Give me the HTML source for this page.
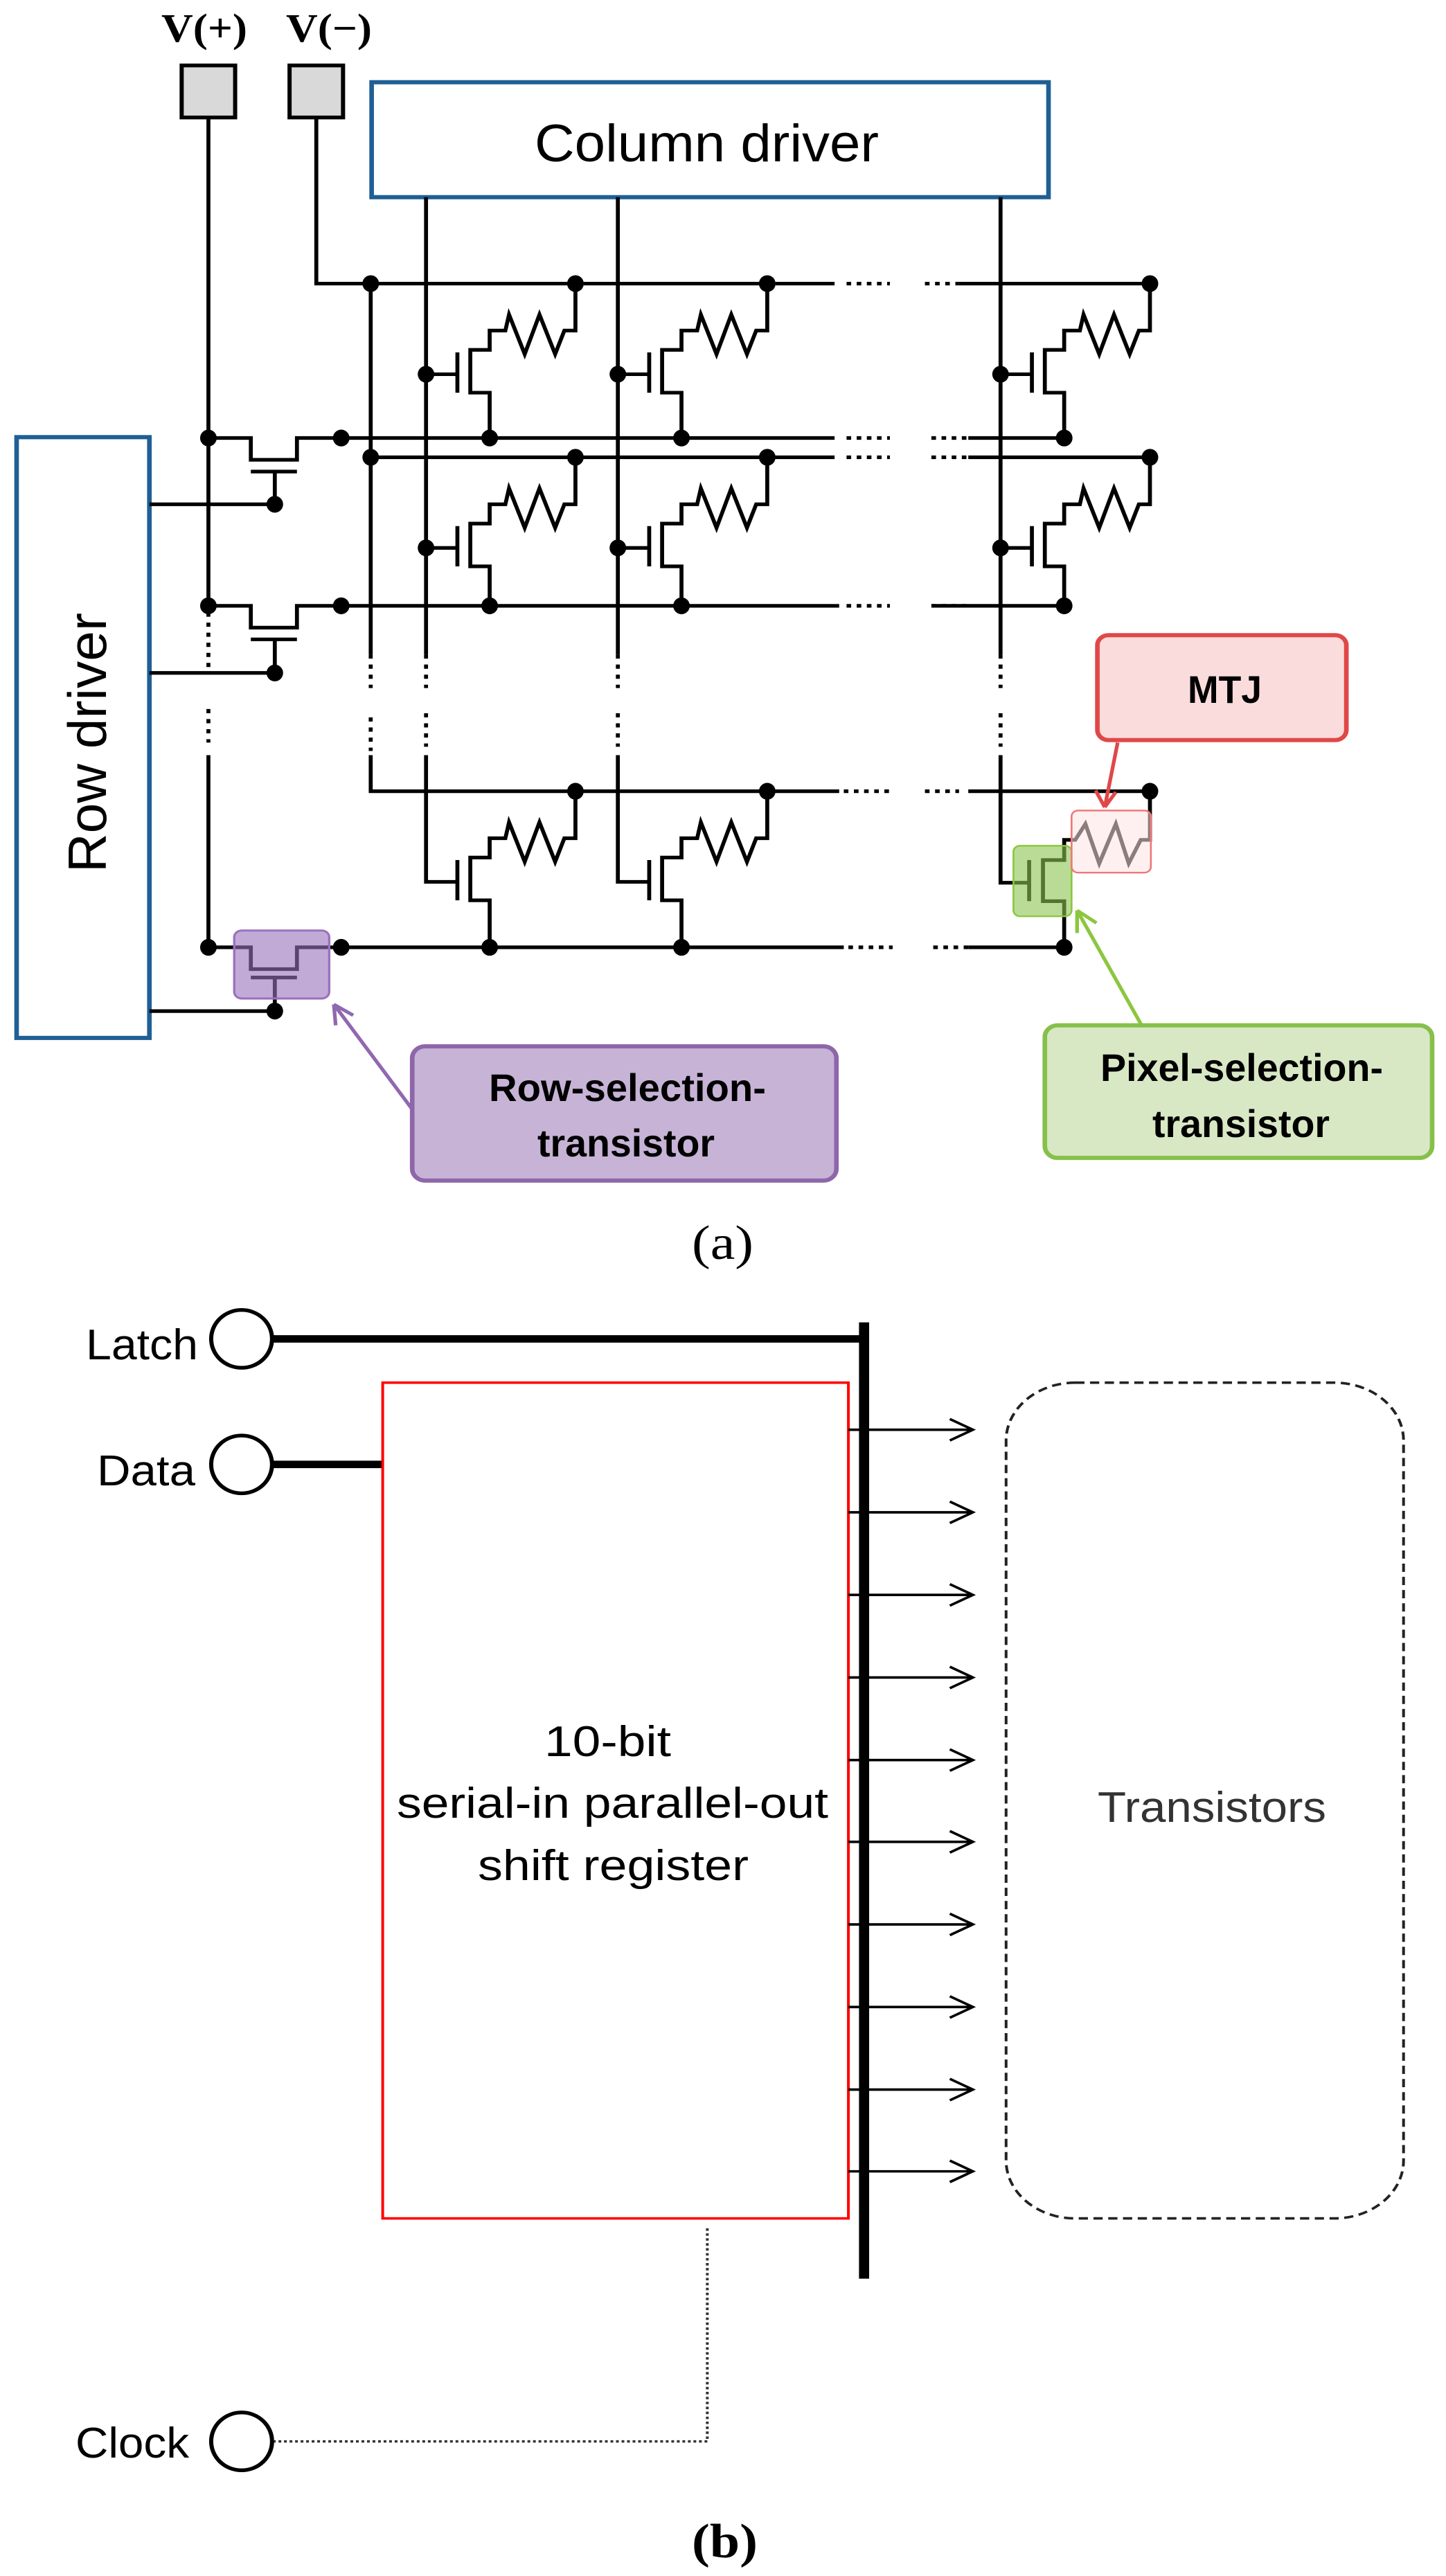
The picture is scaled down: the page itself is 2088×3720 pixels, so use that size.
<!DOCTYPE html>
<html><head><meta charset="utf-8"><style>
html,body{margin:0;padding:0;background:#fff;}
svg{position:absolute;left:0;top:0;display:block}
</style></head><body>
<svg width="2088" height="3720" viewBox="0 0 2088 3720" xmlns="http://www.w3.org/2000/svg">
<rect width="2088" height="3720" fill="#fff"/>
<g transform="scale(1.3316,1.2117)" fill="none" stroke="#000" stroke-width="4.3">
  <!-- V boxes -->
  <rect x="197" y="78" width="58" height="62" fill="#d9d9d9" stroke="#000" stroke-width="4.5"/>
  <rect x="314" y="78" width="58" height="62" fill="#d9d9d9" stroke="#000" stroke-width="4.5"/>
  <!-- Column driver -->
  <rect x="403" y="98" width="734" height="137" fill="#fff" stroke="#1f5f95" stroke-width="5"/>
  <!-- Row driver -->
  <rect x="18" y="521" width="144" height="716" fill="#fff" stroke="#1f5f95" stroke-width="5"/>
  <!-- V+ line -->
  <path d="M226 140 V722 M226 900 V1129"/>
  <path d="M226 730 V800 M226 845 V885" stroke-dasharray="5 7"/>
  <!-- V- line -->
  <path d="M343 140 V338 H905 M1040 338 H1247"/>
  <!-- column lines -->
  <path d="M462 235 V780 M670 235 V780 M1085 235 V780 M402 338 V780"/>
  <path d="M462 780 V820 M462 850 V890 M670 780 V820 M670 850 V890 M1085 780 V820 M1085 850 V890 M402 780 V820 M402 855 V895" stroke-dasharray="5 7"/>
  <path d="M402 900 V943 H910 M1050 943 H1247"/>
  <path d="M462 900 V1051 H497 M670 900 V1051 H705 M1085 900 V1052 H1116"/>
  <!-- row lines -->
  <path d="M226 522 H272 V548 H322 V522 H905 M1050 522 H1154"/>
  <path d="M272 562 H322 M298 562 V601 M162 601 H298"/>
  <path d="M402 545 H905 M1050 545 H1247"/>
  <path d="M226 722 H272 V748 H322 V722 H910 M1010 722 H1154"/>
  <path d="M272 762 H322 M298 762 V802 M162 802 H298"/>
  <path d="M226 1129 H272 V1155 H322 V1129 H915 M1050 1129 H1154"/>
  <path d="M272 1165 H322 M298 1165 V1205 M162 1205 H298"/>
  <!-- dotted row gaps -->
  <path d="M918 338 H965 M1003 338 H1040 M918 522 H965 M1010 522 H1050 M918 545 H965 M1010 545 H1050 M918 722 H965 M1010 722 H1050 M915 943 H965 M1003 943 H1040 M920 1129 H968 M1012 1129 H1050" stroke-dasharray="5 6"/>
  <!-- cells row 1 -->
  <path d="M531 522 V468 H510 V417 H531 V394 H548 L552 375 L569 422 L585 375 L602 422 L612 394 H624 V338 M462 446 H497 M496 420 V468"/>
  <path d="M739 522 V468 H718 V417 H739 V394 H756 L760 375 L777 422 L793 375 L810 422 L820 394 H832 V338 M670 446 H705 M704 420 V468"/>
  <path d="M1154 522 V468 H1133 V417 H1154 V394 H1171 L1175 375 L1192 422 L1208 375 L1225 422 L1235 394 H1247 V338 M1085 446 H1120 M1119 420 V468"/>
  <!-- row 2 -->
  <path d="M531 722 V675 H510 V624 H531 V601 H548 L552 582 L569 629 L585 582 L602 629 L612 601 H624 V545 M462 653 H497 M496 627 V675"/>
  <path d="M739 722 V675 H718 V624 H739 V601 H756 L760 582 L777 629 L793 582 L810 629 L820 601 H832 V545 M670 653 H705 M704 627 V675"/>
  <path d="M1154 722 V675 H1133 V624 H1154 V601 H1171 L1175 582 L1192 629 L1208 582 L1225 629 L1235 601 H1247 V545 M1085 653 H1120 M1119 627 V675"/>
  <!-- row 3 -->
  <path d="M531 1129 V1073 H510 V1022 H531 V999 H548 L552 980 L569 1027 L585 980 L602 1027 L612 999 H624 V943 M496 1025 V1073"/>
  <path d="M739 1129 V1073 H718 V1022 H739 V999 H756 L760 980 L777 1027 L793 980 L810 1027 L820 999 H832 V943 M704 1025 V1073"/>
  <path d="M1154 1129 V1074 H1131 V1025 H1154 V1001 H1166 L1177 982 L1192 1029 L1210 982 L1224 1029 L1237 1001 H1247 V945 M1116 1025 V1074"/>
  <!-- dots -->
  <g fill="#000" stroke="none">
    <ellipse cx="226" cy="522" rx="9" ry="10"/><ellipse cx="370" cy="522" rx="9" ry="10"/><ellipse cx="298" cy="601" rx="9" ry="10"/>
    <ellipse cx="226" cy="722" rx="9" ry="10"/><ellipse cx="370" cy="722" rx="9" ry="10"/><ellipse cx="298" cy="802" rx="9" ry="10"/>
    <ellipse cx="226" cy="1129" rx="9" ry="10"/><ellipse cx="370" cy="1129" rx="9" ry="10"/><ellipse cx="298" cy="1205" rx="9" ry="10"/>
    <ellipse cx="402" cy="338" rx="9" ry="10"/><ellipse cx="624" cy="338" rx="9" ry="10"/><ellipse cx="832" cy="338" rx="9" ry="10"/><ellipse cx="1247" cy="338" rx="9" ry="10"/>
    <ellipse cx="402" cy="545" rx="9" ry="10"/><ellipse cx="624" cy="545" rx="9" ry="10"/><ellipse cx="832" cy="545" rx="9" ry="10"/><ellipse cx="1247" cy="545" rx="9" ry="10"/>
    <ellipse cx="531" cy="522" rx="9" ry="10"/><ellipse cx="739" cy="522" rx="9" ry="10"/><ellipse cx="1154" cy="522" rx="9" ry="10"/>
    <ellipse cx="531" cy="722" rx="9" ry="10"/><ellipse cx="739" cy="722" rx="9" ry="10"/><ellipse cx="1154" cy="722" rx="9" ry="10"/>
    <ellipse cx="624" cy="943" rx="9" ry="10"/><ellipse cx="832" cy="943" rx="9" ry="10"/><ellipse cx="1247" cy="943" rx="9" ry="10"/>
    <ellipse cx="531" cy="1129" rx="9" ry="10"/><ellipse cx="739" cy="1129" rx="9" ry="10"/><ellipse cx="1154" cy="1129" rx="9" ry="10"/>
    <ellipse cx="462" cy="446" rx="9" ry="10"/><ellipse cx="670" cy="446" rx="9" ry="10"/><ellipse cx="1085" cy="446" rx="9" ry="10"/>
    <ellipse cx="462" cy="653" rx="9" ry="10"/><ellipse cx="670" cy="653" rx="9" ry="10"/><ellipse cx="1085" cy="653" rx="9" ry="10"/>
  </g>
  <!-- highlight overlays -->
  <rect x="254" y="1109" width="103" height="81" rx="8" fill="#9a72bd" fill-opacity="0.6" stroke="#9a72bd" stroke-width="2.5"/>
  <rect x="1099" y="1008" width="63" height="84" rx="7" fill="#8cc350" fill-opacity="0.6" stroke="#8cc63f" stroke-width="2"/>
  <rect x="1162" y="966" width="86" height="74" rx="7" fill="#fde3e3" fill-opacity="0.55" stroke="#f07878" stroke-width="2"/>
  <!-- arrows -->
  <path d="M447 1322 L362 1197 M362 1197 L364 1222 M362 1197 L383 1210" stroke="#9068b0" stroke-width="4"/>
  <path d="M1212 885 L1198 962 M1198 962 L1188 942 M1198 962 L1210 944" stroke="#e04848" stroke-width="4"/>
  <path d="M1238 1222 L1168 1085 M1168 1085 L1168 1112 M1168 1085 L1189 1100" stroke="#8cc63f" stroke-width="4"/>
  <!-- label boxes -->
  <rect x="447" y="1247" width="460" height="160" rx="14" fill="#c7b3d6" stroke="#8e66aa" stroke-width="5"/>
  <rect x="1190" y="757" width="270" height="125" rx="12" fill="#fadcdc" stroke="#e04848" stroke-width="5"/>
  <rect x="1133" y="1222" width="420" height="158" rx="14" fill="#d8e8c5" stroke="#86c04a" stroke-width="5"/>
</g>
<g font-family="'Liberation Sans', sans-serif" fill="#000">
  <text x="233" y="60" font-family="'Liberation Serif', serif" font-weight="bold" font-size="58" textLength="124" lengthAdjust="spacingAndGlyphs">V(+)</text>
  <text x="413" y="60" font-family="'Liberation Serif', serif" font-weight="bold" font-size="58" textLength="124" lengthAdjust="spacingAndGlyphs">V(−)</text>
  <text x="772" y="233" font-size="76" textLength="497" lengthAdjust="spacingAndGlyphs">Column driver</text>
  <text transform="translate(153,1260) rotate(-90)" x="0" y="0" font-size="78" textLength="375" lengthAdjust="spacingAndGlyphs">Row driver</text>
  <text x="706" y="1590" font-size="56" font-weight="bold" textLength="400" lengthAdjust="spacingAndGlyphs">Row-selection-</text>
  <text x="776" y="1670" font-size="56" font-weight="bold" textLength="256" lengthAdjust="spacingAndGlyphs">transistor</text>
  <text x="1715" y="1015" font-size="56" font-weight="bold" textLength="107" lengthAdjust="spacingAndGlyphs">MTJ</text>
  <text x="1589" y="1561" font-size="56" font-weight="bold" textLength="408" lengthAdjust="spacingAndGlyphs">Pixel-selection-</text>
  <text x="1664" y="1642" font-size="56" font-weight="bold" textLength="256" lengthAdjust="spacingAndGlyphs">transistor</text>
  <text x="999" y="1818" font-family="'Liberation Serif', serif" font-size="70" textLength="89" lengthAdjust="spacingAndGlyphs">(a)</text>
</g>

<!-- part b -->
<g transform="translate(0,1850) scale(1.3316,1.1926)" fill="none" stroke="#000">
  <path d="M295 70 H937 M295 222 H415" stroke-width="9"/>
  <path d="M937 50 V1208" stroke-width="11"/>
  <ellipse cx="262" cy="70" rx="33" ry="35" stroke-width="4.5"/>
  <ellipse cx="262" cy="222" rx="33" ry="35" stroke-width="4.5"/>
  <ellipse cx="262" cy="1405" rx="33" ry="35" stroke-width="4.5"/>
  <rect x="415" y="123" width="505" height="1012" stroke="#ff0000" stroke-width="3"/>
  <g stroke-width="3">
    <path d="M920 180 H1053 M1030 167 L1055 180 L1030 193"/>
    <path d="M920 280 H1053 M1030 267 L1055 280 L1030 293"/>
    <path d="M920 380 H1053 M1030 367 L1055 380 L1030 393"/>
    <path d="M920 480 H1053 M1030 467 L1055 480 L1030 493"/>
    <path d="M920 580 H1053 M1030 567 L1055 580 L1030 593"/>
    <path d="M920 679 H1053 M1030 666 L1055 679 L1030 692"/>
    <path d="M920 779 H1053 M1030 766 L1055 779 L1030 792"/>
    <path d="M920 879 H1053 M1030 866 L1055 879 L1030 892"/>
    <path d="M920 979 H1053 M1030 966 L1055 979 L1030 992"/>
    <path d="M920 1078 H1053 M1030 1065 L1055 1078 L1030 1091"/>
  </g>
  <rect x="1091" y="123" width="431" height="1012" rx="75" ry="70" stroke="#222" stroke-width="3" stroke-dasharray="10 6"/>
  <path d="M767 1147 V1405 H297" stroke="#333" stroke-width="3" stroke-dasharray="3 3"/>
</g>
<g font-family="'Liberation Sans', sans-serif" fill="#000">
  <text x="124" y="1963" font-size="62" textLength="162" lengthAdjust="spacingAndGlyphs">Latch</text>
  <text x="140" y="2145" font-size="62" textLength="142" lengthAdjust="spacingAndGlyphs">Data</text>
  <text x="109" y="3549" font-size="62" textLength="164" lengthAdjust="spacingAndGlyphs">Clock</text>
  <text x="786" y="2536" font-size="62" textLength="183" lengthAdjust="spacingAndGlyphs">10-bit</text>
  <text x="573" y="2625" font-size="62" textLength="623" lengthAdjust="spacingAndGlyphs">serial-in parallel-out</text>
  <text x="690" y="2715" font-size="62" textLength="391" lengthAdjust="spacingAndGlyphs">shift register</text>
  <text x="1585" y="2631" font-size="62" fill="#333" textLength="330" lengthAdjust="spacingAndGlyphs">Transistors</text>
  <text x="999" y="3693" font-family="'Liberation Serif', serif" font-weight="bold" font-size="70" textLength="95" lengthAdjust="spacingAndGlyphs">(b)</text>
</g>
</svg>
</body></html>
